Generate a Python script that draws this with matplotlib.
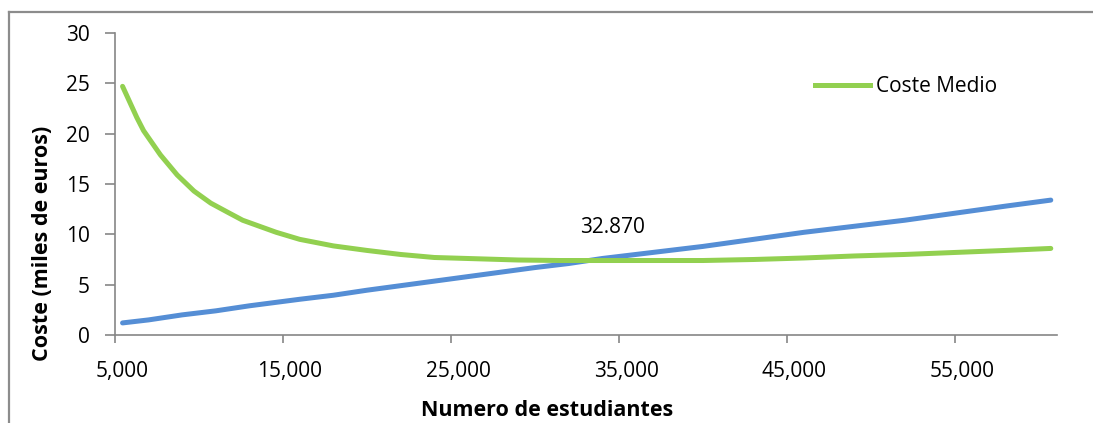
import matplotlib
matplotlib.use("Agg")
from matplotlib import pyplot as plt
from matplotlib.lines import Line2D
from matplotlib.ticker import FuncFormatter
import matplotlib.transforms as mtransforms

plt.rcParams['font.family'] = ['Open Sans', 'DejaVu Sans']

# Coste medio (miles de euros) por numero de estudiantes
x_medio = [5450, 6300, 6700, 7700, 8700, 9700, 10700, 11700, 12600, 13600,
           14600, 16000, 18000, 20000, 22000, 24000, 26000, 29000, 31500,
           34000, 40000, 43000, 46000, 49000, 52000, 55000, 58000, 60700]
coste_medio = [24.7, 21.6, 20.3, 17.9, 15.9, 14.3, 13.1, 12.2, 11.4, 10.8,
               10.2, 9.5, 8.85, 8.4, 8.0, 7.7, 7.6, 7.45, 7.4,
               7.4, 7.4, 7.5, 7.65, 7.85, 8.0, 8.2, 8.4, 8.6]

# Coste marginal
x_marginal = [5450, 7000, 9000, 11000, 13000, 16000, 18000, 20000, 22000,
              24000, 26000, 28000, 30000, 32000, 34000, 37000, 40000, 43000,
              46000, 49000, 52000, 55000, 58000, 60700]
coste_marginal = [1.2, 1.5, 2.0, 2.4, 2.9, 3.55, 3.95, 4.45, 4.9,
                  5.35, 5.8, 6.25, 6.7, 7.1, 7.6, 8.2, 8.8, 9.5,
                  10.2, 10.8, 11.4, 12.1, 12.8, 13.4]

x_ticks = [5000, 15000, 25000, 35000, 45000, 55000]
y_ticks = [0, 5, 10, 15, 20, 25, 30]
cruce = 32870

verde = '#92d050'
azul = '#558ed5'
gris = '#868686'
fs = 15
fs_titulo = 15.5
lw = 3.6

fig = plt.figure(figsize=(10.93, 4.23), dpi=100)
ax = fig.add_axes([115 / 1093, 1 - 335 / 423, 942 / 1093, 302 / 423])

ax.plot(x_marginal, coste_marginal, color=azul, lw=lw, solid_capstyle='round')
ax.plot(x_medio, coste_medio, color=verde, lw=lw, solid_capstyle='round')

ax.set_xlim(5000, 61070)
ax.set_ylim(0, 30)
ax.set_xticks(x_ticks)
ax.set_yticks(y_ticks)
ax.xaxis.set_major_formatter(FuncFormatter(lambda v, p: "{:,.0f}".format(v)))

for s in ['top', 'right']:
    ax.spines[s].set_visible(False)
for s in ['left', 'bottom']:
    ax.spines[s].set_color(gris)
    ax.spines[s].set_linewidth(1.2)
ax.tick_params(axis='y', length=7, width=1.2, color=gris, labelsize=fs, pad=11)
ax.tick_params(axis='x', length=6, width=1.2, color=gris, labelsize=fs, pad=13)

# etiquetas del eje x algo desplazadas a la derecha
desplaza = mtransforms.ScaledTranslation(7 / 100, 0, fig.dpi_scale_trans)
for lab in ax.get_xticklabels():
    lab.set_transform(lab.get_transform() + desplaza)

ax.text(cruce + 1770, 10.7, "{:,}".format(cruce).replace(",", "."),
        fontsize=fs, ha='center', va='center')

fig.text(547 / 1093, 1 - 410 / 423, "Numero de estudiantes", fontsize=fs_titulo,
         fontweight='bold', ha='center', va='center')
fig.text(43 / 1093, 1 - 243 / 423, "Coste (miles de euros)", fontsize=fs_titulo,
         fontweight='bold', ha='center', va='center', rotation=90)

ax.legend([Line2D([], [], color=verde, lw=lw)], ["Coste Medio"],
          loc='center left', bbox_to_anchor=(815 / 1093, 1 - 87 / 423),
          bbox_transform=fig.transFigure, frameon=False, fontsize=fs,
          handlelength=2.65, handletextpad=0.28, borderpad=0, borderaxespad=0)

# marco del grafico
fig.add_artist(Line2D([9 / 1093, 9 / 1093], [0, 1 - 12 / 423], color='#8c8c8c',
                      lw=1.6, transform=fig.transFigure))
fig.add_artist(Line2D([9 / 1093, 1], [1 - 12 / 423, 1 - 12 / 423], color='#8c8c8c',
                      lw=1.6, transform=fig.transFigure))

fig.savefig("out.png", dpi=100)
